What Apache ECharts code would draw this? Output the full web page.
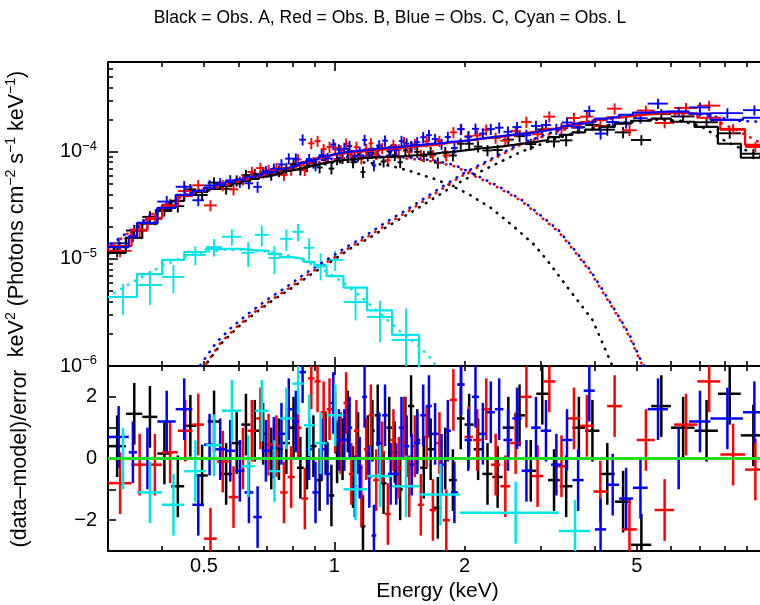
<!DOCTYPE html>
<html><head><meta charset="utf-8">
<script src="https://cdn.jsdelivr.net/npm/echarts@6/dist/echarts.min.js"></script>
<style>html,body{margin:0;padding:0;background:#fff;}#chart{width:760px;height:605px;}</style>
</head><body><div id="chart"></div>
<script>
// ================= DATA (flux in units of 1e-5 photons cm^-2 s^-1 keV^-1 * keV^2) =================
const TITLE = 'Black = Obs. A, Red = Obs. B, Blue = Obs. C, Cyan = Obs. L';
const FLUX_UNIT = 1e-5;

// ---- Obs. A (black) ----
const energyEdgesA = [0.30,0.33,0.36,0.39,0.42,0.45,0.48,0.51,0.545,0.58,0.61,0.64,0.67,0.70,0.73,0.76,0.79,0.82,0.85,0.88,0.91,0.94,0.97,1.00,1.03,1.06,1.09,1.12,1.15,1.18,1.21,1.24,1.28,1.32,1.36,1.40,1.44,1.48,1.53,1.58,1.64,1.70,1.77,1.84,1.92,2.00,2.10,2.20,2.32,2.45,2.60,2.76,2.93,3.12,3.32,3.55,3.80,4.10,4.45,4.85,5.4,6.0,6.8,7.7,8.7,9.9];
const fluxA = [1.19,1.84,2.47,2.86,3.11,4.46,3.95,5.16,4.52,5.38,6.07,6.2,6.41,6.1,6.59,7.05,7.68,6.83,7.32,7.92,7.14,8.46,6.98,8.5,8.72,9.72,7.98,9.22,6.47,9.21,9.84,10.4,8.12,10.1,9.3,7.99,10.3,11.2,10.0,9.13,9.92,7.92,9.9,9.25,11.9,11.9,11.2,10.3,10.4,13.0,14.0,11.8,16.2,12.5,12.8,17.0,17.8,16.1,15.2,12.9,22.5,21.4,18.9,14.9,9.6];
const relErrA = [0.13,0.13,0.13,0.13,0.13,0.12,0.12,0.12,0.12,0.12,0.12,0.12,0.12,0.12,0.12,0.12,0.12,0.12,0.12,0.12,0.12,0.12,0.12,0.12,0.12,0.12,0.12,0.12,0.12,0.12,0.12,0.12,0.12,0.12,0.12,0.12,0.12,0.12,0.12,0.12,0.12,0.12,0.12,0.12,0.12,0.12,0.12,0.12,0.12,0.12,0.12,0.12,0.12,0.12,0.12,0.12,0.12,0.12,0.12,0.11,0.11,0.11,0.11,0.11,0.11];
const modelA = [1.14,1.57,2.13,2.81,3.49,3.96,4.23,4.51,4.81,5.08,5.36,5.6,5.85,6.1,6.36,6.65,6.86,7.09,7.32,7.56,7.8,7.98,8.15,8.3,8.42,8.5,8.6,8.7,8.79,8.79,8.88,8.88,8.98,8.98,9.08,9.08,9.18,9.27,9.37,9.47,9.58,9.8,9.9,10.1,10.3,10.55,10.8,11.0,11.25,11.6,12.0,12.4,12.9,13.7,14.4,15.2,16.1,17.1,18.3,19.5,20.4,19.1,17.1,11.9,8.8];
const residA = [0.4,1.45,1.35,0.16,-0.9,1.06,-0.55,1.2,-0.5,0.5,1.1,0.9,0.8,0.0,0.3,0.5,1.0,-0.3,0.0,0.4,-0.7,0.5,-1.2,0.2,0.3,1.2,-0.6,0.5,-2.2,0.4,0.9,1.4,-0.8,1.0,0.2,-1.0,1.0,1.7,0.6,-0.3,0.3,-1.6,0.0,-0.7,1.3,1.1,0.3,-0.5,-0.6,1.0,1.4,-0.4,2.1,-0.7,-0.9,1.0,0.9,-0.5,-1.4,-2.8,1.7,1.0,0.9,2.1,0.75];

// ---- Obs. B (red) ----
const energyEdgesB = [0.30,0.34,0.37,0.40,0.435,0.47,0.50,0.535,0.57,0.60,0.63,0.66,0.69,0.72,0.75,0.78,0.81,0.84,0.87,0.90,0.93,0.96,0.99,1.02,1.05,1.08,1.11,1.14,1.17,1.20,1.23,1.27,1.31,1.35,1.39,1.43,1.47,1.51,1.56,1.61,1.66,1.72,1.78,1.85,1.92,2.00,2.09,2.19,2.30,2.42,2.55,2.70,2.86,3.04,3.24,3.46,3.70,3.97,4.27,4.62,5.0,5.5,6.1,6.9,7.8,8.9,9.9];
const fluxB = [1.19,1.83,2.36,3.21,4.30,4.87,3.16,4.86,4.46,5.5,6.48,7.05,6.75,7.02,6.08,6.77,8.51,6.75,12.0,12.6,10.6,11.1,10.9,10.3,11.9,9.31,11.1,8.65,10.6,12.0,9.53,10.8,8.35,11.6,10.5,12.3,9.9,11.8,9.35,12.5,9.28,12.6,9.23,15.2,16.3,14.0,14.2,16.1,13.5,12.7,15.6,19.0,14.6,21.3,16.6,20.7,21.3,17.4,25.3,15.9,24.3,18.6,25.7,27.0,16.4,11.1];
const relErrB = [0.13,0.13,0.13,0.13,0.13,0.12,0.12,0.12,0.12,0.12,0.12,0.12,0.12,0.12,0.12,0.12,0.12,0.12,0.12,0.12,0.12,0.12,0.12,0.12,0.12,0.12,0.12,0.12,0.12,0.12,0.12,0.12,0.12,0.12,0.12,0.12,0.12,0.12,0.12,0.12,0.12,0.12,0.12,0.12,0.12,0.12,0.12,0.12,0.12,0.12,0.12,0.12,0.12,0.12,0.12,0.12,0.12,0.12,0.12,0.12,0.11,0.11,0.11,0.11,0.11,0.11];
const modelB = [1.32,1.87,2.42,3.13,3.88,4.3,4.6,4.92,5.25,5.5,5.85,6.1,6.4,6.7,7.0,7.3,7.6,8.0,8.3,8.7,9.0,9.3,9.5,9.7,9.8,9.9,10.0,10.1,10.2,10.3,10.4,10.55,10.65,10.8,10.9,11.0,11.1,11.25,11.4,11.5,11.6,11.9,12.15,12.4,12.65,12.9,13.2,13.5,13.8,14.25,14.7,15.3,15.7,16.4,17.1,17.9,18.9,19.9,21.0,21.9,22.7,23.2,22.7,20.8,16.1,11.6];
const residB = [-0.8,-0.2,-0.2,0.2,0.9,1.1,-2.6,-0.1,-1.25,0.0,0.9,1.3,0.45,0.4,-1.1,-0.6,1.0,-1.3,2.6,2.5,1.5,1.6,1.2,0.5,1.8,-0.5,0.9,-1.2,0.3,1.4,-0.7,0.2,-1.8,0.6,-0.3,1.0,-0.9,0.4,-1.5,0.7,-1.67,0.5,-2.0,1.9,2.4,0.7,0.6,1.6,-0.2,-0.9,0.5,2.0,-0.57,2.5,-0.25,1.3,1.06,-1.07,1.7,-2.3,0.6,-1.67,1.1,2.5,0.13,-0.36];

// ---- Obs. C (blue) ----
const energyEdgesC = [0.30,0.335,0.35,0.39,0.43,0.47,0.50,0.53,0.56,0.59,0.62,0.65,0.68,0.71,0.74,0.77,0.80,0.83,0.86,0.89,0.92,0.95,0.98,1.01,1.04,1.07,1.10,1.13,1.16,1.19,1.22,1.25,1.29,1.33,1.37,1.41,1.45,1.49,1.53,1.58,1.63,1.68,1.74,1.80,1.86,1.93,2.00,2.08,2.16,2.25,2.35,2.46,2.58,2.71,2.85,3.00,3.17,3.35,3.55,3.77,4.00,4.25,4.55,4.9,5.3,5.9,6.6,7.4,8.8,9.9];
const fluxC = [1.40,1.65,2.17,3.43,4.72,3.53,4.85,5.08,5.41,5.24,5.08,4.71,6.59,6.93,7.62,8.64,8.64,13.0,8.55,7.47,9.32,8.74,11.7,10.5,10.7,11.3,9.1,9.93,12.9,9.74,7.46,11.45,12.7,10.3,10.4,12.6,11.95,11.2,12.3,13.7,14.3,13.15,11.85,13.75,10.85,16.3,13.8,16.4,14.8,16.3,16.8,15.4,17.0,14.3,17.4,17.8,16.3,18.8,16.8,24.1,14.8,19.0,18.7,20.6,28.2,23.7,26.0,23.0,24.5];
const relErrC = [0.13,0.13,0.13,0.13,0.13,0.12,0.12,0.12,0.12,0.12,0.12,0.12,0.12,0.12,0.12,0.12,0.12,0.12,0.12,0.12,0.12,0.12,0.12,0.12,0.12,0.12,0.12,0.12,0.12,0.12,0.12,0.12,0.12,0.12,0.12,0.12,0.12,0.12,0.12,0.12,0.12,0.12,0.12,0.12,0.12,0.12,0.12,0.12,0.12,0.12,0.12,0.12,0.12,0.12,0.12,0.12,0.12,0.12,0.12,0.12,0.12,0.12,0.12,0.11,0.11,0.11,0.11,0.11,0.11];
const modelC = [1.29,1.61,2.17,3.0,3.96,4.3,4.6,4.9,5.25,5.5,5.85,6.1,6.4,6.65,6.95,7.25,7.55,7.9,8.25,8.6,9.0,9.3,9.6,9.8,10.0,10.1,10.2,10.3,10.4,10.5,10.65,10.8,10.9,11.0,11.1,11.25,11.4,11.5,11.6,11.75,11.9,12.0,12.15,12.4,12.5,12.65,12.9,13.2,13.5,13.8,14.1,14.4,14.7,15.0,15.5,16.1,16.7,17.5,18.3,19.1,20.4,21.2,22.2,23.2,23.7,23.7,22.7,19.9,20.8];
const residC = [0.7,0.2,0.0,1.2,1.6,-1.5,0.45,0.3,0.25,-0.4,-1.1,-1.9,0.25,0.35,0.8,1.6,1.2,2.8,0.3,-1.1,0.3,-0.5,1.8,0.6,0.6,1.0,-0.9,-0.3,2.0,-0.6,-2.5,0.5,1.4,-0.5,-0.5,1.0,0.4,-0.2,0.5,1.4,1.7,0.8,-0.2,0.9,-1.1,2.4,0.6,2.0,0.8,1.5,1.6,0.6,1.3,-0.4,1.0,0.9,-0.2,0.6,-0.7,2.2,-2.3,-0.85,-1.3,-0.95,1.6,0.0,1.2,1.3,1.5];

// ---- Obs. L (cyan) ----
const energyEdgesL = [0.30,0.35,0.40,0.45,0.505,0.55,0.61,0.655,0.705,0.75,0.80,0.85,0.90,0.96,1.05,1.19,1.36,1.57,1.95,3.3,3.9];
const fluxL = [0.441,0.571,0.679,1.09,1.29,1.61,1.14,1.68,1.02,1.54,1.79,1.27,0.88,0.98,0.396,0.287,0.175,0.03,0.015,0.008];
const errL = [0.14,0.2,0.2,0.22,0.24,0.28,0.3,0.36,0.3,0.35,0.33,0.3,0.25,0.21,0.13,0.12,0.17,0.02,0.01,0.005];
const modelL = [0.441,0.72,0.98,1.16,1.24,1.24,1.21,1.19,1.11,1.04,1.0,0.94,0.86,0.69,0.54,0.33,0.195,0.06,0.02,0.005];
const residL = [0.0,-1.1,-1.5,-0.41,0.43,1.55,-0.25,1.55,-0.41,1.3,2.43,1.08,0.5,1.4,-1.0,-0.57,-0.9,-1.17,-1.76,-2.35];

// ---- model components (dotted) ----
const softEnergyA = [0.30,0.35,0.40,0.45,0.50,0.60,0.70,0.80,0.90,1.0,1.1,1.2,1.35,1.5,1.7,1.85,2.05,2.3,2.6,2.9,3.1,3.5,3.95,4.35,4.5];
const softFluxA = [1.1,1.95,3.0,3.85,4.35,5.2,6.0,6.8,7.5,7.95,8.1,7.9,7.4,6.6,5.6,4.9,4.0,3.0,2.0,1.35,0.98,0.51,0.27,0.11,0.08];
const softEnergyB = [0.30,0.35,0.40,0.45,0.50,0.60,0.70,0.80,0.90,1.0,1.1,1.2,1.35,1.5,1.7,1.9,2.1,2.4,2.7,3.0,3.3,3.6,3.9,4.2,4.5,4.8,5.1,5.3];
const softFluxB = [1.25,2.0,3.1,3.9,4.45,5.3,6.2,7.1,7.9,8.5,8.9,9.05,8.95,8.6,8.1,7.3,6.0,4.6,3.5,2.47,1.79,1.16,0.76,0.47,0.30,0.19,0.11,0.085];
const softEnergyC = [0.30,0.35,0.40,0.45,0.50,0.60,0.70,0.80,0.90,1.0,1.1,1.2,1.35,1.5,1.7,1.9,2.1,2.4,2.7,3.0,3.3,3.6,3.9,4.2,4.5,4.8,5.1,5.3];
const softFluxC = [1.3,2.05,3.15,3.95,4.5,5.4,6.35,7.3,8.1,8.7,9.1,9.25,9.15,8.8,8.3,7.5,6.2,4.75,3.6,2.55,1.85,1.2,0.79,0.49,0.31,0.2,0.115,0.088];
const hardEnergyA = [0.50,0.55,0.60,0.655,0.72,0.80,0.885,0.985,1.09,1.22,1.35,1.5,1.7,1.9,2.05,2.3,2.7,3.2,3.8,4.5,5.5,6.3,7.0,7.9,8.6,9.9];
const hardFluxA = [0.098,0.165,0.232,0.31,0.41,0.54,0.72,0.95,1.25,1.62,2.1,2.7,3.7,4.9,5.8,7.3,10.0,13.0,16.0,18.5,20.0,19.5,17.5,13.0,11.0,8.8];
const hardEnergyB = [0.50,0.545,0.595,0.65,0.715,0.795,0.88,0.98,1.09,1.215,1.35,1.5,1.69,1.9,2.03,2.26,2.71,3.2,3.85,4.5,5.5,6.5,7.5,8.5,9.9];
const hardFluxB = [0.098,0.163,0.231,0.313,0.414,0.55,0.74,0.98,1.29,1.68,2.22,2.87,3.96,5.4,6.4,8.0,11.8,15.0,18.7,20.8,22.7,22.3,20.0,16.0,11.5];
const hardEnergyC = [0.487,0.532,0.58,0.636,0.698,0.777,0.861,0.96,1.067,1.19,1.32,1.47,1.66,1.87,2.0,2.23,2.68,3.18,3.82,4.5,5.5,6.5,7.5,8.5,9.9];
const hardFluxC = [0.098,0.163,0.231,0.313,0.414,0.55,0.74,0.98,1.29,1.68,2.22,2.87,3.96,5.4,6.4,8.0,11.8,15.2,19.0,21.2,23.0,23.0,21.5,19.5,19.0];
const compEnergyL = [0.31,0.35,0.40,0.45,0.50,0.56,0.62,0.70,0.78,0.86,0.95,1.05,1.17,1.30,1.42,1.55,1.65,1.72];
const compFluxL = [0.48,0.64,0.86,1.05,1.16,1.22,1.22,1.17,1.08,0.95,0.78,0.6,0.42,0.29,0.21,0.16,0.125,0.1];

// ---- axes ----
const X_MIN = 0.3, X_MAX = 10;
const Y_MIN = 1e-6, Y_MAX = 6.9e-4;
const R_MIN = -3, R_MAX = 3;
const xMinorTickValues = [0.4,0.5,0.6,0.7,0.8,0.9,2,3,4,5,6,7,8,9];
const xMajorTickValues = [1];
const xLabelValues = [0.5,1,2,5];
const yMinorTickValues = [2e-6,3e-6,4e-6,5e-6,6e-6,7e-6,8e-6,9e-6,2e-5,3e-5,4e-5,5e-5,6e-5,7e-5,8e-5,9e-5,2e-4,3e-4,4e-4,5e-4,6e-4];
const yMajorTickValues = [1e-5,1e-4];
const yLabelValues = [1e-6,1e-5,1e-4];
const residTickValues = [-2,-1,0,1,2];
const residLabelValues = [-2,0,2];

// ================= CHART =================
const FONT = '"Liberation Sans", Arial, Helvetica, sans-serif';
const COL = {A: '#000000', B: '#ff0000', C: '#0000ff', L: '#00e6e6', zero: '#22dd22'};

function crossItems(edges, flux, err, relative) {
  return flux.map((f, i) => [edges[i], edges[i + 1], f * FLUX_UNIT, (relative ? err[i] * f : err[i]) * FLUX_UNIT]);
}
function residItems(edges, resid) {
  return resid.map((r, i) => [edges[i], edges[i + 1], r]);
}
function stepData(edges, values) {
  const pts = values.map((v, i) => [edges[i], v * FLUX_UNIT]);
  pts.push([edges[edges.length - 1], values[values.length - 1] * FLUX_UNIT]);
  return pts;
}
function curveData(es, fs) { return es.map((e, i) => [e, fs[i] * FLUX_UNIT]); }

function crossRenderer(color, width, fixedErr) {
  return function (params, api) {
    const lo = api.value(0), hi = api.value(1), v = api.value(2);
    const e = fixedErr != null ? fixedErr : api.value(3);
    const mid = (lo + hi) / 2;
    const a = api.coord([lo, v]), b = api.coord([hi, v]);
    const t = api.coord([mid, v + e]), u = api.coord([mid, v - e]);
    const cs = params.coordSys;
    return {
      type: 'group',
      clipPath: {type: 'rect', shape: {x: cs.x, y: cs.y, width: cs.width, height: cs.height}},
      children: [
        {type: 'line', shape: {x1: a[0], y1: a[1], x2: b[0], y2: b[1]}, style: {stroke: color, lineWidth: width}},
        {type: 'line', shape: {x1: t[0], y1: t[1], x2: u[0], y2: u[1]}, style: {stroke: color, lineWidth: width}}
      ]
    };
  };
}
function crossSeries(data, color, upper) {
  return {
    type: 'custom', xAxisIndex: upper ? 0 : 4, yAxisIndex: upper ? 0 : 2,
    data: data, encode: {x: [0, 1], y: 2}, silent: true,
    renderItem: crossRenderer(color, upper ? 1.9 : 2.5, upper ? null : 1)
  };
}
function stepSeries(data, color) {
  return {type: 'line', xAxisIndex: 0, yAxisIndex: 0, data: data, step: 'end', showSymbol: false, symbol: 'none',
    silent: true, lineStyle: {color: color, width: 2.2}};
}
function dotSeries(data, color, offset) {
  return {type: 'line', xAxisIndex: 0, yAxisIndex: 0, data: data, showSymbol: false, symbol: 'none', silent: true,
    lineStyle: {color: color, width: 2.6, type: [0.5, 7.5], dashOffset: offset || 0, cap: 'round'}};
}

function xAxisDef(gridIndex, position, tickValues, tickLen, showLine, extra) {
  return Object.assign({
    type: 'log', logBase: 10, gridIndex: gridIndex, position: position, min: X_MIN, max: X_MAX,
    axisLine: {show: showLine, onZero: false, lineStyle: {color: '#000', width: 2}},
    axisTick: {show: true, inside: true, length: tickLen, customValues: tickValues, lineStyle: {color: '#000', width: 1.6}},
    axisLabel: {show: false}, splitLine: {show: false}, minorTick: {show: false}, minorSplitLine: {show: false}
  }, extra || {});
}

const supRich = {s: {fontSize: 14, fontFamily: FONT, color: '#000', verticalAlign: 'top', lineHeight: 12}};
const supRichLabel = {s: {fontSize: 13, fontFamily: FONT, color: '#000', verticalAlign: 'top', lineHeight: 12}};

const option = {
  animation: false,
  backgroundColor: '#ffffff',
  grid: [
    {left: 108, top: 62, right: -7, height: 304, containLabel: false, outerBoundsMode: 'none'},
    {left: 108, top: 366, right: -7, height: 185, containLabel: false, outerBoundsMode: 'none'}
  ],
  graphic: [{
    type: 'text', x: 390, y: 18, silent: true,
    style: {text: TITLE, fontSize: 17.5, fontFamily: FONT, fill: '#000', align: 'center', verticalAlign: 'middle',
      textAlign: 'center', textVerticalAlign: 'middle'}
  }],
  xAxis: [
    xAxisDef(0, 'bottom', xMinorTickValues, 5, true),
    xAxisDef(0, 'top', xMinorTickValues, 5, true),
    xAxisDef(0, 'bottom', xMajorTickValues, 9, false),
    xAxisDef(0, 'top', xMajorTickValues, 9, false),
    xAxisDef(1, 'bottom', xMinorTickValues, 5, true, {
      axisLabel: {show: true, customValues: xLabelValues, margin: 5, fontSize: 20, fontFamily: FONT, color: '#000',
        formatter: v => String(Number(Number(v).toPrecision(3)))},
      name: 'Energy (keV)', nameLocation: 'middle', nameGap: 30,
      nameTextStyle: {fontSize: 21, fontFamily: FONT, color: '#000'}
    }),
    xAxisDef(1, 'top', xMinorTickValues, 5, true),
    xAxisDef(1, 'bottom', xMajorTickValues, 9, false),
    xAxisDef(1, 'top', xMajorTickValues, 9, false)
  ],
  yAxis: [
    {
      type: 'log', logBase: 10, gridIndex: 0, position: 'left', min: Y_MIN, max: Y_MAX,
      axisLine: {show: true, onZero: false, lineStyle: {color: '#000', width: 2}},
      axisTick: {show: true, inside: true, length: 5, customValues: yMinorTickValues, lineStyle: {color: '#000', width: 1.6}},
      axisLabel: {show: true, customValues: yLabelValues, margin: 11, fontSize: 20, fontFamily: FONT, color: '#000',
        lineHeight: 24, rich: supRichLabel,
        formatter: v => { const p = Math.round(Math.log10(v)); return '10{s|' + (p < 0 ? '\u2212' + (-p) : p) + '}'; }},
      splitLine: {show: false}, minorTick: {show: false}, minorSplitLine: {show: false},
      name: 'keV{s|2} (Photons cm{s|\u22122} s{s|\u22121} keV{s|\u22121})', nameLocation: 'middle', nameGap: 77, nameRotate: 90,
      nameTextStyle: {fontSize: 21.5, fontFamily: FONT, color: '#000', lineHeight: 27, rich: supRich}
    },
    {
      type: 'log', logBase: 10, gridIndex: 0, position: 'left', min: Y_MIN, max: Y_MAX,
      axisLine: {show: false, onZero: false},
      axisTick: {show: true, inside: true, length: 10, customValues: yMajorTickValues, lineStyle: {color: '#000', width: 1.6}},
      axisLabel: {show: false}, splitLine: {show: false}, minorTick: {show: false}
    },
    {
      type: 'value', gridIndex: 1, position: 'left', min: R_MIN, max: R_MAX, interval: 1,
      axisLine: {show: true, onZero: false, lineStyle: {color: '#000', width: 2}},
      axisTick: {show: true, inside: true, length: 8, customValues: residTickValues, lineStyle: {color: '#000', width: 1.6}},
      axisLabel: {show: true, customValues: residLabelValues, margin: 11, fontSize: 20, fontFamily: FONT, color: '#000',
        formatter: v => (v < 0 ? '\u2212' + (-v) : String(v))},
      splitLine: {show: false},
      name: '(data\u2013model)/error', nameLocation: 'middle', nameGap: 77, nameRotate: 90,
      nameTextStyle: {fontSize: 21.5, fontFamily: FONT, color: '#000'}
    }
  ],
  series: [
    dotSeries(curveData(compEnergyL, compFluxL), COL.L),
    dotSeries(curveData(softEnergyA, softFluxA), COL.A),
    dotSeries(curveData(hardEnergyA, hardFluxA), COL.A, 2),
    dotSeries(curveData(softEnergyB, softFluxB), COL.B),
    dotSeries(curveData(hardEnergyB, hardFluxB), COL.B, 4),
    dotSeries(curveData(softEnergyC, softFluxC), COL.C, 4),
    dotSeries(curveData(hardEnergyC, hardFluxC), COL.C, 6),
    crossSeries(crossItems(energyEdgesA, fluxA, relErrA, true), COL.A, true),
    crossSeries(crossItems(energyEdgesB, fluxB, relErrB, true), COL.B, true),
    crossSeries(crossItems(energyEdgesC, fluxC, relErrC, true), COL.C, true),
    crossSeries(crossItems(energyEdgesL, fluxL, errL, false), COL.L, true),
    stepSeries(stepData(energyEdgesA, modelA), COL.A),
    stepSeries(stepData(energyEdgesB, modelB), COL.B),
    stepSeries(stepData(energyEdgesC, modelC), COL.C),
    stepSeries(stepData(energyEdgesL, modelL), COL.L),
    crossSeries(residItems(energyEdgesA, residA), COL.A, false),
    crossSeries(residItems(energyEdgesB, residB), COL.B, false),
    crossSeries(residItems(energyEdgesC, residC), COL.C, false),
    crossSeries(residItems(energyEdgesL, residL), COL.L, false),
    {
      type: 'line', xAxisIndex: 4, yAxisIndex: 2, data: [], silent: true, showSymbol: false,
      markLine: {silent: true, symbol: ['none', 'none'], label: {show: false}, animation: false,
        lineStyle: {color: COL.zero, width: 3, type: 'solid'}, data: [{yAxis: 0}]}
    }
  ]
};

const chart = echarts.init(document.getElementById('chart'), null, {renderer: 'canvas', width: 760, height: 605});
chart.setOption(option);
</script>
</body></html>
